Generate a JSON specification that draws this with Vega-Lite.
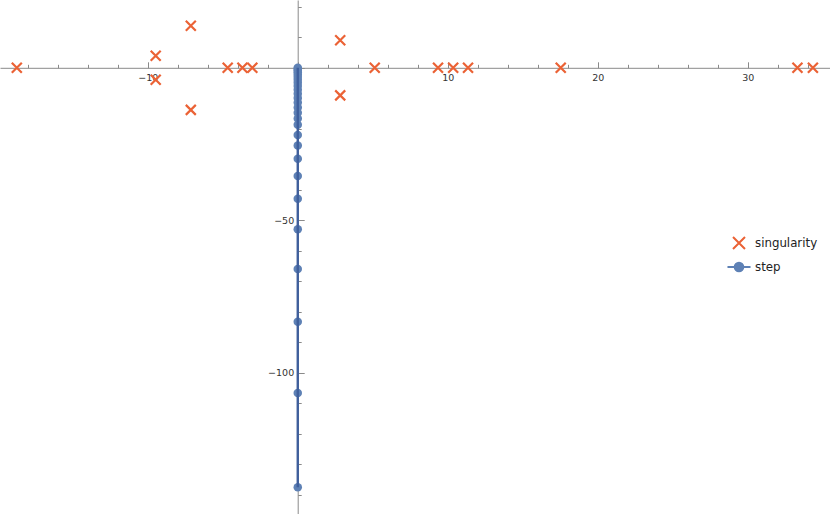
{
  "$schema": "https://vega.github.io/schema/vega-lite/v6.json",
  "width": 830,
  "height": 514,
  "autosize": {"type": "none"},
  "padding": 0,
  "background": "white",
  "config": {
    "view": {"stroke": null},
    "font": "DejaVu Sans",
    "axis": {"grid": false, "domainColor": "#8a8a8a", "tickColor": "#8a8a8a", "labelColor": "#333333", "labelFont": "DejaVu Sans", "labelFontSize": 9.5, "title": null},
    "legend": {"orient": "none", "legendX": 726, "legendY": 230, "title": null, "symbolSize": 576, "symbolStrokeWidth": 2, "symbolOpacity": 1, "rowPadding": 1, "labelOffset": 3, "labelFontSize": 11.8, "labelFont": "DejaVu Sans", "labelColor": "#222222"}
  },
  "datasets": {
    "sing": [
      {"x": -18.73, "y": 0, "series": "singularity"},
      {"x": -9.47, "y": 3.95, "series": "singularity"},
      {"x": -9.47, "y": -3.95, "series": "singularity"},
      {"x": -7.13, "y": 13.8, "series": "singularity"},
      {"x": -7.13, "y": -13.8, "series": "singularity"},
      {"x": -4.67, "y": 0, "series": "singularity"},
      {"x": -3.69, "y": 0, "series": "singularity"},
      {"x": -3.03, "y": 0, "series": "singularity"},
      {"x": 2.83, "y": 9.05, "series": "singularity"},
      {"x": 2.83, "y": -9.05, "series": "singularity"},
      {"x": 5.13, "y": 0, "series": "singularity"},
      {"x": 9.35, "y": 0, "series": "singularity"},
      {"x": 10.36, "y": 0, "series": "singularity"},
      {"x": 11.35, "y": 0, "series": "singularity"},
      {"x": 17.53, "y": 0, "series": "singularity"},
      {"x": 33.31, "y": 0, "series": "singularity"},
      {"x": 34.34, "y": 0, "series": "singularity"}
    ],
    "step": [
      {"i": 0, "x": 0, "y": 0, "series": "step"},
      {"i": 1, "x": 0, "y": -0.4, "series": "step"},
      {"i": 2, "x": 0, "y": -0.9, "series": "step"},
      {"i": 3, "x": 0, "y": -1.5, "series": "step"},
      {"i": 4, "x": 0, "y": -2.2, "series": "step"},
      {"i": 5, "x": 0, "y": -3.0, "series": "step"},
      {"i": 6, "x": 0, "y": -3.9, "series": "step"},
      {"i": 7, "x": 0, "y": -4.9, "series": "step"},
      {"i": 8, "x": 0, "y": -6.0, "series": "step"},
      {"i": 9, "x": 0, "y": -7.2, "series": "step"},
      {"i": 10, "x": 0, "y": -8.5, "series": "step"},
      {"i": 11, "x": 0, "y": -9.9, "series": "step"},
      {"i": 12, "x": 0, "y": -11.4, "series": "step"},
      {"i": 13, "x": 0, "y": -13.0, "series": "step"},
      {"i": 14, "x": 0, "y": -14.7, "series": "step"},
      {"i": 15, "x": 0, "y": -16.6, "series": "step"},
      {"i": 16, "x": 0, "y": -18.7, "series": "step"},
      {"i": 17, "x": 0, "y": -22.0, "series": "step"},
      {"i": 18, "x": 0, "y": -25.5, "series": "step"},
      {"i": 19, "x": 0, "y": -29.8, "series": "step"},
      {"i": 20, "x": 0, "y": -35.5, "series": "step"},
      {"i": 21, "x": 0, "y": -42.9, "series": "step"},
      {"i": 22, "x": 0, "y": -52.9, "series": "step"},
      {"i": 23, "x": 0, "y": -66.0, "series": "step"},
      {"i": 24, "x": 0, "y": -83.3, "series": "step"},
      {"i": 25, "x": 0, "y": -106.6, "series": "step"},
      {"i": 26, "x": 0, "y": -137.5, "series": "step"}
    ]
  },
  "resolve": {"axis": {"x": "independent", "y": "independent"}},
  "layer": [
    {
      "data": {"name": "step"},
      "mark": {"type": "point", "shape": "circle", "filled": true, "size": 72, "opacity": 1, "color": "#5E81B5"},
      "encoding": {
        "x": {"field": "x", "type": "quantitative", "scale": {"domain": [-19.85, 35.48], "nice": false, "zero": false},
          "axis": {"orient": "top", "offset": -67.8, "values": [-18,-16,-14,-12,-10,-8,-6,-4,-2,0,2,4,6,8,10,12,14,16,18,20,22,24,26,28,30,32,34], "labels": false,
            "tickSize": {"condition": {"test": "datum.value % 10 === 0", "value": 6}, "value": 3.5}}},
        "y": {"field": "y", "type": "quantitative", "scale": {"domain": [-146.3, 22.23], "nice": false, "zero": false},
          "axis": {"orient": "right", "offset": -532.3, "values": [-140,-130,-120,-110,-100,-90,-80,-70,-60,-50,-40,-30,-20,-10,0,10,20], "labels": false,
            "tickSize": {"condition": {"test": "datum.value % 50 === 0", "value": 6.5}, "value": 3.5}}}
      }
    },
    {
      "data": {"name": "sing"},
      "mark": {"type": "point", "filled": false, "size": 400, "strokeWidth": 2.2, "opacity": 1},
      "encoding": {
        "x": {"field": "x", "type": "quantitative", "scale": {"domain": [-19.85, 35.48], "nice": false, "zero": false},
          "axis": {"orient": "bottom", "offset": -446.2, "values": [-10, 10, 20, 30], "ticks": false, "domain": false, "labelPadding": 5, "labelFlush": false, "labelOverlap": false}},
        "y": {"field": "y", "type": "quantitative", "scale": {"domain": [-146.3, 22.23], "nice": false, "zero": false},
          "axis": {"orient": "left", "offset": -297.7, "values": [-50, -100], "ticks": false, "domain": false, "labelPadding": 4, "labelFlush": false, "labelOverlap": false}},
        "color": {"field": "series", "type": "nominal",
          "scale": {"domain": ["singularity", "step"], "range": ["#EB6235", "#5E81B5"]}},
        "shape": {"field": "series", "type": "nominal",
          "scale": {"domain": ["singularity", "step"], "range": ["M-0.5,-0.5L0.5,0.5M0.5,-0.5L-0.5,0.5", "M-0.96,0L0.96,0M0.36,0A0.36,0.36 0 1 1 -0.36,0A0.36,0.36 0 1 1 0.36,0M0.26,0A0.26,0.26 0 1 1 -0.26,0A0.26,0.26 0 1 1 0.26,0M0.16,0A0.16,0.16 0 1 1 -0.16,0A0.16,0.16 0 1 1 0.16,0M0.06,0A0.06,0.06 0 1 1 -0.06,0A0.06,0.06 0 1 1 0.06,0"]}}
      }
    },
    {
      "data": {"name": "step"},
      "mark": {"type": "line", "color": "#3f5f9c", "strokeWidth": 2.4},
      "encoding": {
        "x": {"field": "x", "type": "quantitative", "axis": null},
        "y": {"field": "y", "type": "quantitative", "axis": null},
        "order": {"field": "i", "type": "quantitative"}
      }
    }
  ]
}
